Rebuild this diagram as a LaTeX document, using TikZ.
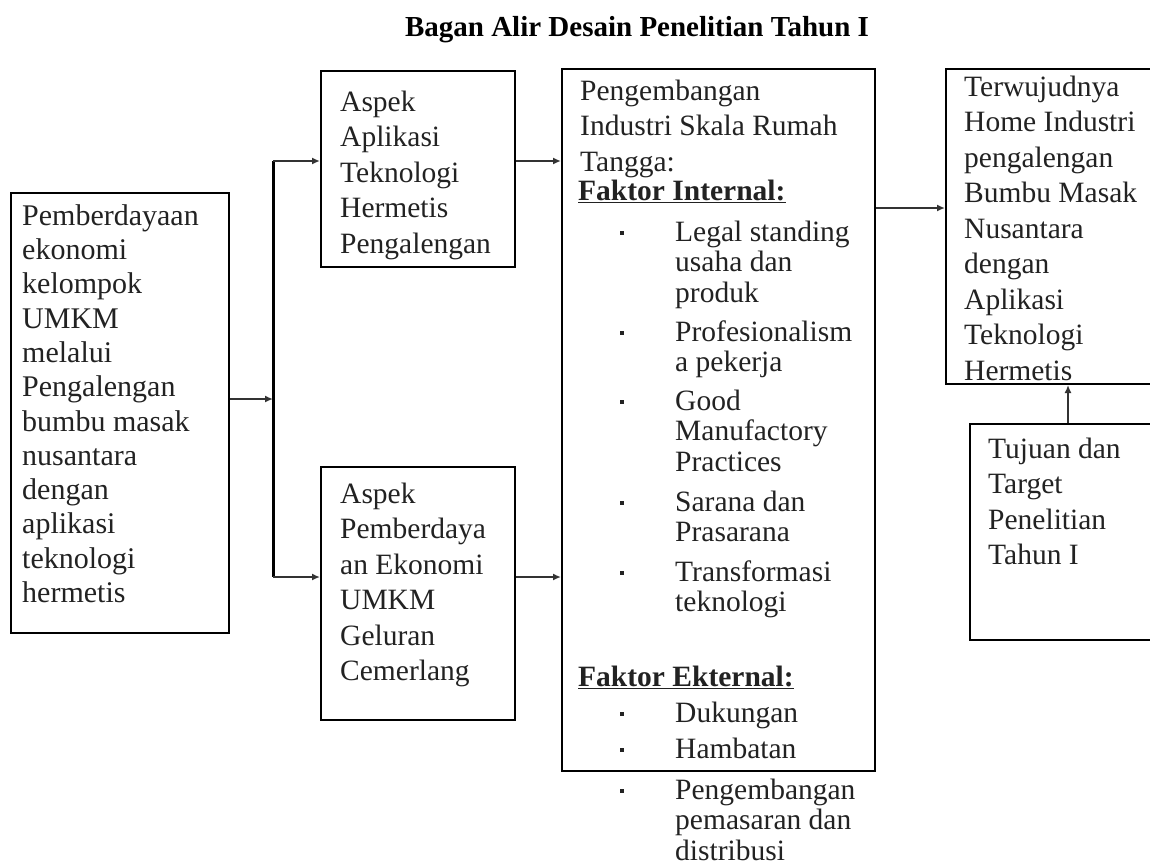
\documentclass[tikz,border=0pt]{standalone}
\usepackage{fontspec}
\setmainfont{Liberation Serif}
\usetikzlibrary{arrows.meta}
\definecolor{textc}{HTML}{222222}
\definecolor{connc}{HTML}{333333}
\begin{document}
\begin{tikzpicture}[x=1pt,y=-1pt,
  box/.style={draw=black, line width=2pt, inner sep=0pt, anchor=north west, rectangle},
  txt/.style={anchor=north west, inner sep=0pt, align=left, text=textc, font=\fontsize{29.5}{35.5}\selectfont},
  ltxt/.style={anchor=north west, inner sep=0pt, align=left, text=textc, font=\fontsize{29.5}{30.5}\selectfont},
  bul/.style={fill=textc, rectangle, inner sep=0pt, minimum size=3.5pt},
  conn/.style={draw=connc, line width=2.5pt, -{Latex[length=8pt,width=7pt]}},
  trunk/.style={draw=black, line width=3pt}
]
\useasboundingbox (0,0) rectangle (1150,867);

% title
\node[font=\bfseries\fontsize{29}{35}\selectfont, text=black] (title) at (637,30) {Bagan Alir Desain Penelitian Tahun I};

% boxes
\node[box, minimum width=218pt, minimum height=440pt] (L) at (10,192) {};
\node[box, minimum width=194pt, minimum height=196pt] (A) at (320,70) {};
\node[box, minimum width=194pt, minimum height=253pt] (B) at (320,466) {};
\node[box, minimum width=313pt, minimum height=702pt] (P) at (561,68) {};
\node[box, minimum width=215pt, minimum height=315pt] (T) at (945,68) {};
\node[box, minimum width=191pt, minimum height=216pt] (G) at (969,423) {};

% texts
\node[txt, font=\fontsize{30}{34.3}\selectfont] (Lt) at (22,201) {\strut Pemberdayaan\\ekonomi\\kelompok\\UMKM\\melalui\\Pengalengan\\bumbu masak\\nusantara\\dengan\\aplikasi\\teknologi\\hermetis};
\node[txt] (At) at (340,86) {\strut Aspek\\Aplikasi\\Teknologi\\Hermetis\\Pengalengan};
\node[txt] (Bt) at (340,478) {\strut Aspek\\Pemberdaya\\an Ekonomi\\UMKM\\Geluran\\Cemerlang};
\node[txt] (Pt) at (580,75) {\strut Pengembangan\\Industri Skala Rumah\\Tangga:};
\node[txt, font=\bfseries\fontsize{29.5}{35.5}\selectfont] (Fi) at (578,175) {\strut\underline{Faktor Internal:}};
\node[ltxt] (i1) at (675,219.6) {\strut Legal standing\\usaha dan\\produk};
\node[ltxt] (i2) at (675,319.6) {\strut Profesionalism\\a pekerja};
\node[ltxt] (i3) at (675,388.6) {\strut Good\\Manufactory\\Practices};
\node[ltxt] (i4) at (675,489.6) {\strut Sarana dan\\Prasarana};
\node[ltxt] (i5) at (675,559.6) {\strut Transformasi\\teknologi};
\node[txt, font=\bfseries\fontsize{29.5}{35.5}\selectfont] (Fe) at (578,661) {\strut\underline{Faktor Ekternal:}};
\node[ltxt] (e1) at (675,700.6) {\strut Dukungan};
\node[ltxt] (e2) at (675,736.6) {\strut Hambatan};
\node[ltxt] (e3) at (675,777.6) {\strut Pengembangan\\pemasaran dan\\distribusi};
\node[txt] (Tt) at (964,71) {\strut Terwujudnya\\Home Industri\\pengalengan\\Bumbu Masak\\Nusantara\\dengan\\Aplikasi\\Teknologi\\Hermetis};
\node[txt] (Gt) at (988,433) {\strut Tujuan dan\\Target\\Penelitian\\Tahun I};

% bullets
\node[bul] (b1) at (622,233) {};
\node[bul] (b2) at (622,333) {};
\node[bul] (b3) at (622,402) {};
\node[bul] (b4) at (622,503) {};
\node[bul] (b5) at (622,573) {};
\node[bul] (b6) at (622,714) {};
\node[bul] (b7) at (622,750) {};
\node[bul] (b8) at (622,791) {};

% connectors
\coordinate (j) at (273,399);
\coordinate (jt) at (273,161);
\coordinate (jb) at (273,577);
\coordinate (k) at (0,208);
\coordinate (u) at (1068,0);
\draw[trunk] (jt) -- (jb);
\draw[conn] (j -| L.east) -- (j);
\draw[conn] (jt) -- (jt -| A.west);
\draw[conn] (jb) -- (jb -| B.west);
\draw[conn] (jt -| A.east) -- (jt -| P.west);
\draw[conn] (jb -| B.east) -- (jb -| P.west);
\draw[conn] (k -| P.east) -- (k -| T.west);
\draw[conn] (u |- G.north) -- (u |- T.south);
\end{tikzpicture}
\end{document}
